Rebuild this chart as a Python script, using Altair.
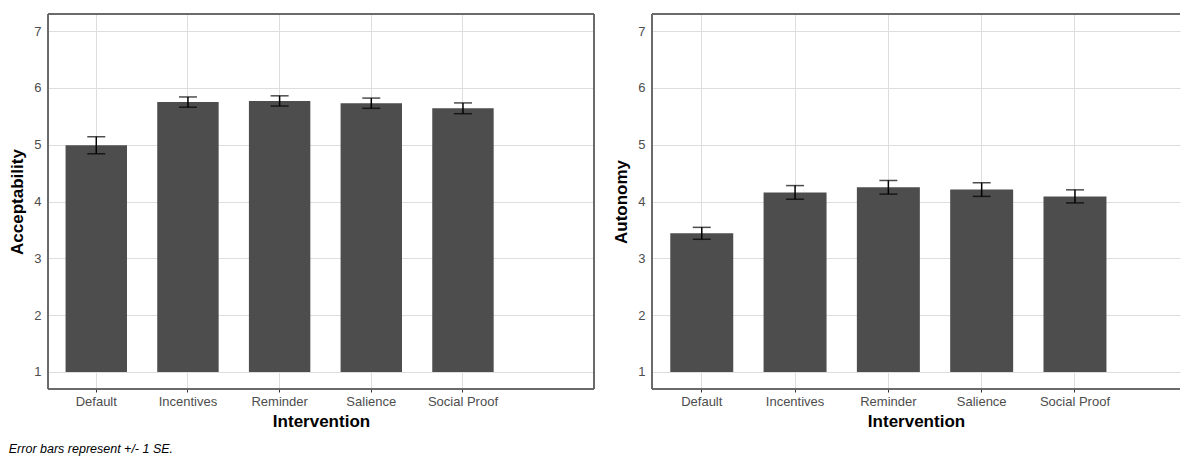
import altair as alt
import pandas as pd

interventions = ["Default", "Incentives", "Reminder", "Salience", "Social Proof"]
acc_mean = [4.99, 5.75, 5.77, 5.73, 5.64]
acc_se = [0.15, 0.09, 0.09, 0.09, 0.095]
aut_mean = [3.44, 4.16, 4.25, 4.21, 4.09]
aut_se = [0.105, 0.12, 0.12, 0.12, 0.115]
y_ticks = [1, 2, 3, 4, 5, 6, 7]
caption = "Error bars represent +/- 1 SE."

FONT = "Liberation Sans"
BORDER = "#666666"
HEIGHT = 375


def panel(mean, se, ytitle, width, pin, pout, align, right_border):
    df = pd.DataFrame({
        "Intervention": interventions,
        "mean": mean,
        "lo": [m - s for m, s in zip(mean, se)],
        "hi": [m + s for m, s in zip(mean, se)],
        "base": [1] * len(mean),
    })
    x = alt.X(
        "Intervention:N", sort=interventions, title="Intervention",
        scale=alt.Scale(paddingInner=pin, paddingOuter=pout, align=align),
        axis=alt.Axis(labelAngle=0, labelFontSize=13, labelColor="#4d4d4d",
                      labelPadding=3, tickSize=3, tickColor="#333333",
                      grid=True, domain=False,
                      titleFontSize=17, titleFontWeight="bold",
                      titleColor="black", titlePadding=5),
    )
    yscale = alt.Scale(domain=[0.7, 7.3], nice=False, zero=False)
    yaxis = alt.Axis(values=y_ticks, format="d", labelFontSize=13,
                     labelColor="#4d4d4d", ticks=False, tickSize=0,
                     labelPadding=7, domain=False,
                     titleFontSize=17, titleFontWeight="bold",
                     titleColor="black", titlePadding=7)
    base = alt.Chart(df)
    bars = base.mark_bar(color="#4d4d4d").encode(
        x=x, y=alt.Y("mean:Q", scale=yscale, axis=yaxis, title=ytitle),
        y2="base:Q")
    rule = base.mark_rule(color="black", strokeWidth=1.5).encode(
        x=x, y=alt.Y("lo:Q", title=ytitle), y2="hi:Q")
    cap_lo = base.mark_tick(color="black", size=18, thickness=1.5).encode(
        x=x, y=alt.Y("lo:Q", title=ytitle))
    cap_hi = base.mark_tick(color="black", size=18, thickness=1.5).encode(
        x=x, y=alt.Y("hi:Q", title=ytitle))
    border = base.mark_rule(color=BORDER, strokeWidth=1)
    layers = [bars, rule, cap_lo, cap_hi,
              border.encode(x=alt.value(0), x2=alt.value(width), y=alt.value(0)),
              border.encode(x=alt.value(0), x2=alt.value(width), y=alt.value(HEIGHT)),
              border.encode(x=alt.value(0), y=alt.value(0), y2=alt.value(HEIGHT))]
    if right_border:
        layers.append(border.encode(x=alt.value(width), y=alt.value(0),
                                    y2=alt.value(HEIGHT)))
    return alt.layer(*layers).properties(
        width=width, height=HEIGHT, view=alt.ViewBackground(stroke=None))


left = panel(acc_mean, acc_se, "Acceptability", 546, 0.33, 0.643, 0.149, True)
right = panel(aut_mean, aut_se, "Autonomy", 528, 0.325, 0.492, 0.199, False)

chart = alt.hconcat(left, right, spacing=17).properties(
    padding={"left": 0, "top": 5, "right": 0, "bottom": 0},
    title=alt.TitleParams(caption, orient="bottom", anchor="start",
                          fontSize=12.5, fontStyle="italic", fontWeight="normal",
                          color="black", font=FONT, offset=14),
).configure_axis(
    gridColor="#ebebeb", gridWidth=1.1,
    labelFont=FONT, titleFont=FONT,
).configure(font=FONT)

chart.save("out.html", embed_options={"renderer": "svg", "actions": False})
